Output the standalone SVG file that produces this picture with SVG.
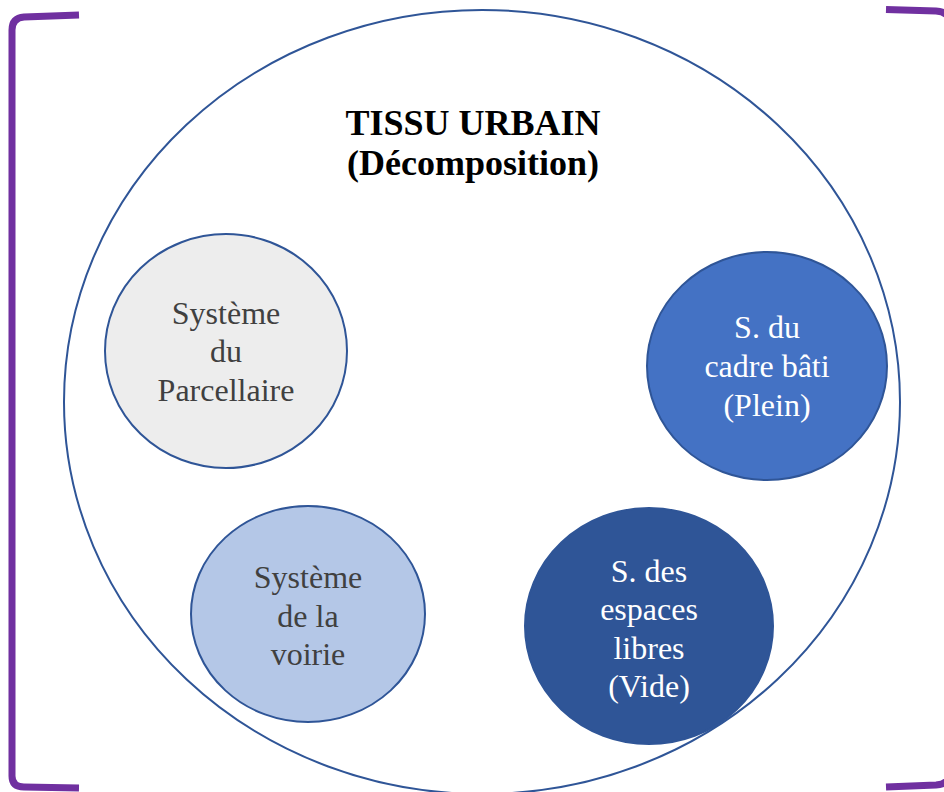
<svg xmlns="http://www.w3.org/2000/svg" width="944" height="792" viewBox="0 0 944 792">
<style>
.bracket{fill:none;stroke:#7030A0;stroke-width:7;stroke-linejoin:round}
.node{stroke:#2F5597;stroke-width:2}
.lbl{font-family:"Liberation Serif","Times New Roman",serif;font-size:32px;text-anchor:middle}
.dark{fill:#404040}
.light{fill:#FFFFFF}
.title{font-family:"Liberation Serif","Times New Roman",serif;font-size:36px;font-weight:bold;text-anchor:middle;fill:#000000}
</style>
<rect width="944" height="792" fill="#FFFFFF"/>
<g id="brackets">
<path class="bracket" d="M79,15 L24,17 Q12,18 12,30 L12,776 Q12,787 24,787 L79,788"/>
<path class="bracket" d="M886,9.5 L936,11 Q951,12 951,26 L951,770 Q951,784 936,785 L886,787"/>
</g>
<g id="tissu">
<ellipse cx="482" cy="402" rx="418" ry="392" fill="#FFFFFF" stroke="#2F5597" stroke-width="2"/>
<text class="title" x="473" y="135">TISSU URBAIN</text>
<text class="title" x="473" y="175">(Décomposition)</text>
</g>
<g id="parcellaire">
<ellipse class="node" cx="226" cy="351" rx="121" ry="117" fill="#EDEDED"/>
<text class="lbl dark" x="226" y="324">Système</text>
<text class="lbl dark" x="226" y="362">du</text>
<text class="lbl dark" x="226" y="401">Parcellaire</text>
</g>
<g id="cadre-bati">
<ellipse class="node" cx="767" cy="366" rx="120" ry="114" fill="#4472C4"/>
<text class="lbl light" x="767" y="338">S. du</text>
<text class="lbl light" x="767" y="377">cadre bâti</text>
<text class="lbl light" x="767" y="416">(Plein)</text>
</g>
<g id="voirie">
<ellipse class="node" cx="308" cy="614" rx="117" ry="108" fill="#B4C7E7"/>
<text class="lbl dark" x="308" y="588">Système</text>
<text class="lbl dark" x="308" y="627">de la</text>
<text class="lbl dark" x="308" y="665">voirie</text>
</g>
<g id="espaces-libres">
<ellipse class="node" cx="649" cy="626" rx="124" ry="118" fill="#2F5597"/>
<text class="lbl light" x="649" y="582">S. des</text>
<text class="lbl light" x="649" y="620">espaces</text>
<text class="lbl light" x="649" y="659">libres</text>
<text class="lbl light" x="649" y="697">(Vide)</text>
</g>
<g id="connectors"></g>
</svg>
